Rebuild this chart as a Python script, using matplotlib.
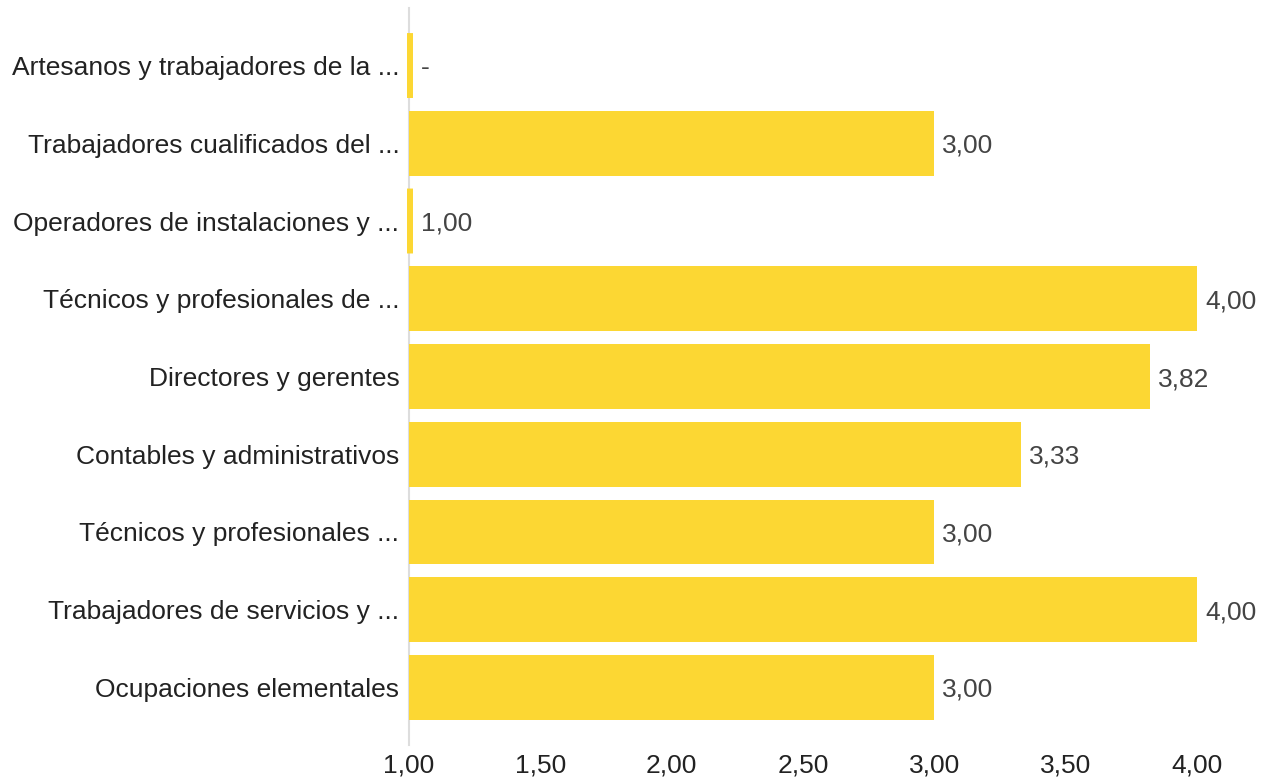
import matplotlib
matplotlib.use("Agg")
import matplotlib.pyplot as plt
from matplotlib.patches import FancyBboxPatch

categories = [
    "Artesanos y trabajadores de la ...",
    "Trabajadores cualificados del ...",
    "Operadores de instalaciones y ...",
    "Técnicos y profesionales de ...",
    "Directores y gerentes",
    "Contables y administrativos",
    "Técnicos y profesionales ...",
    "Trabajadores de servicios y ...",
    "Ocupaciones elementales",
]
values = [None, 3.00, 1.00, 4.00, 3.82, 3.33, 3.00, 4.00, 3.00]
xticks = [1.0, 1.5, 2.0, 2.5, 3.0, 3.5, 4.0]

plt.rcParams['font.family'] = ['Liberation Sans', 'DejaVu Sans']
BAR = "#FCD733"
TXT = "#444444"
FS = 19

fig = plt.figure(figsize=(12.71, 7.78), dpi=100)
ax = fig.add_axes([409/1271, 1-745/778, (1197-409)/1271, (745-8)/778])
ax.set_xlim(1.0, 4.0)
ax.set_ylim(8.74, -0.74)

h = 0.835
px = 3.0 / (1197 - 409)
for i, v in enumerate(values):
    if v is None or v <= 1.0:
        stub = FancyBboxPatch((1.0 - 2*px, i - h/2), 6*px, h,
                              boxstyle="round,pad=0,rounding_size=0.0001",
                              facecolor=BAR, edgecolor='none', clip_on=False, zorder=3)
        ax.add_patch(stub)
        end = 1.0 + 4*px
    else:
        ax.barh(i, v - 1.0, left=1.0, height=h, color=BAR, zorder=3)
        end = v
    lab = "-" if v is None else f"{v:.2f}".replace(".", ",")
    ax.text(end + 8*px, i, lab, va='center_baseline', ha='left', fontsize=FS,
            color=TXT, clip_on=False)

ax.set_yticks(range(len(categories)))
ax.set_yticklabels(categories, fontsize=FS, color="#222222")
ax.set_xticks(xticks)
ax.set_xticklabels([f"{t:.2f}".replace(".", ",") for t in xticks], fontsize=FS, color="#222222")
ax.tick_params(axis='both', length=0)
ax.tick_params(axis='y', pad=7)
ax.tick_params(axis='x', pad=6)
for s in ['top', 'right', 'bottom']:
    ax.spines[s].set_visible(False)
ax.spines['left'].set_color('#dddddd')
ax.spines['left'].set_linewidth(1.5)
ax.spines['left'].set_zorder(2)

fig.savefig("out.png", dpi=100)
